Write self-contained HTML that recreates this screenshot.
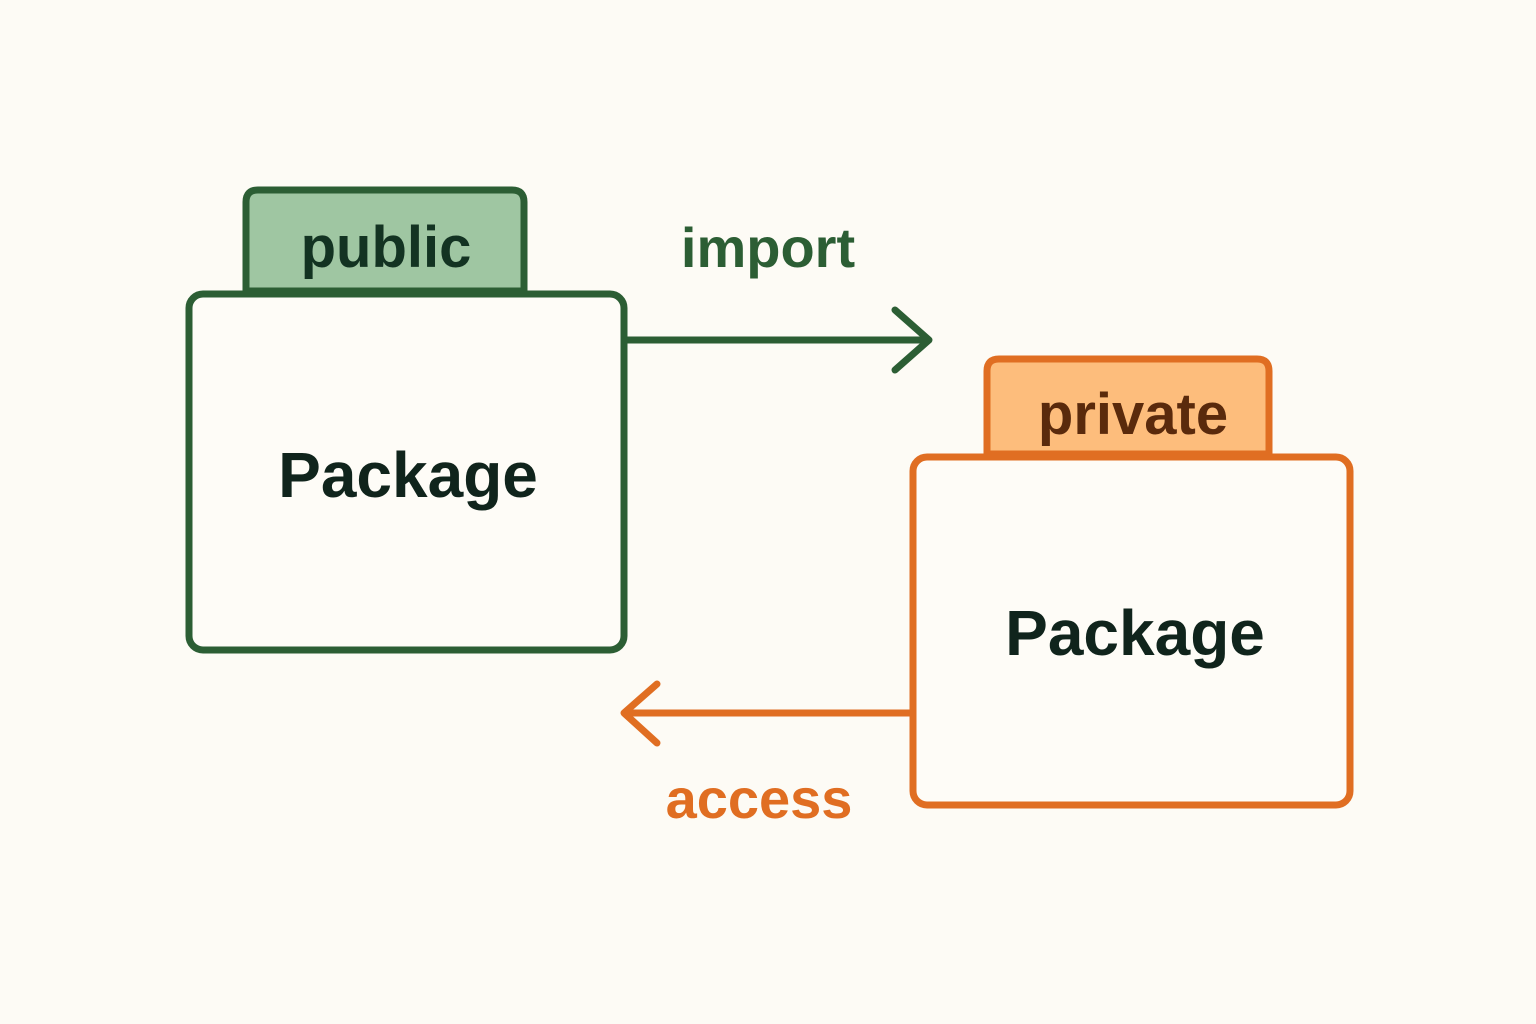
<!DOCTYPE html>
<html><head><style>
body{margin:0;background:#fdfbf5;}
svg{display:block}
text{font-family:"Liberation Sans","DejaVu Sans",sans-serif;font-weight:bold;text-anchor:middle}
</style></head><body>
<svg width="1536" height="1024" viewBox="0 0 1536 1024">
<rect width="1536" height="1024" fill="#fdfbf5"/>
<!-- green package -->
<path d="M246 291 V202 Q246 190 258 190 H512 Q524 190 524 202 V291 Z" fill="#9fc6a2" stroke="#2c5e34" stroke-width="7"/>
<rect x="189" y="294" width="435" height="356" rx="14" fill="#fefcf7" stroke="#2c5e34" stroke-width="7"/>
<text x="386" y="267" font-size="58" fill="#133322">public</text>
<text x="408" y="497" font-size="64" fill="#10241c">Package</text>
<!-- import arrow -->
<line x1="627" y1="340" x2="928" y2="340" stroke="#2c5e34" stroke-width="7"/>
<polyline points="895,310 929,340 895,370" fill="none" stroke="#2c5e34" stroke-width="7" stroke-linecap="round" stroke-linejoin="round"/>
<text x="768" y="267" font-size="56" fill="#2c5e34" font-weight="normal" style="font-weight:600">import</text>
<!-- orange package -->
<path d="M987 454 V371 Q987 359 999 359 H1257 Q1269 359 1269 371 V454 Z" fill="#fdbd7c" stroke="#e06e22" stroke-width="7"/>
<rect x="913" y="457" width="437" height="348" rx="14" fill="#fefcf7" stroke="#e06e22" stroke-width="7"/>
<text x="1133" y="434" font-size="58" fill="#5a2a0c">private</text>
<text x="1135" y="655" font-size="64" fill="#10241c">Package</text>
<!-- access arrow -->
<line x1="910" y1="713" x2="625" y2="713" stroke="#e06e22" stroke-width="7"/>
<polyline points="657,684 624,713 657,743" fill="none" stroke="#e06e22" stroke-width="7" stroke-linecap="round" stroke-linejoin="round"/>
<text x="759" y="818" font-size="56" fill="#e06e22">access</text>
</svg>
</body></html>
